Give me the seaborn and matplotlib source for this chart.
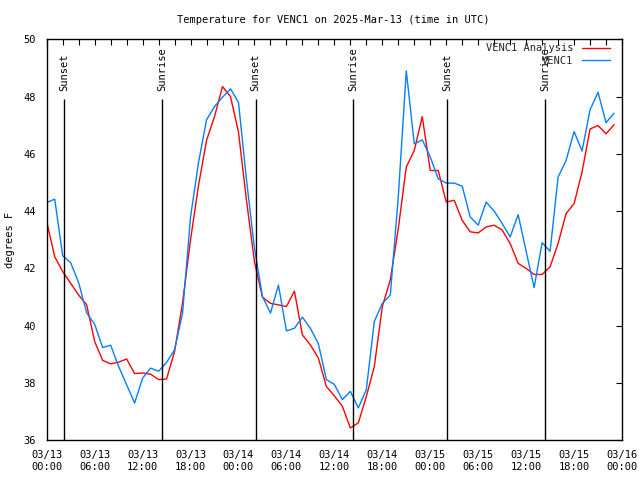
import matplotlib
matplotlib.use("Agg")
import matplotlib.pyplot as plt
import matplotlib.dates as mdates
import numpy as np
import pandas as pd
import seaborn as sns

# hourly values, hours after 2025-03-13 00:00 UTC
hours = list(range(72))

analysis = [43.63, 42.41, 41.89, 41.48, 41.07, 40.73, 39.45, 38.79, 38.67, 38.73,
            38.84, 38.33, 38.35, 38.31, 38.12, 38.14, 39.10, 40.80, 43.00, 44.90,
            46.47, 47.30, 48.35, 48.00, 46.76, 44.38, 42.23, 41.00, 40.78, 40.73,
            40.67, 41.21, 39.68, 39.33, 38.87, 37.88, 37.55, 37.19, 36.43, 36.61,
            37.53, 38.58, 40.67, 41.60, 43.39, 45.54, 46.12, 47.30, 45.42, 45.42,
            44.32, 44.38, 43.68, 43.28, 43.24, 43.45, 43.51, 43.34, 42.87, 42.18,
            42.00, 41.79, 41.79, 42.06, 42.87, 43.92, 44.26, 45.37, 46.87, 46.99,
            46.70, 47.02]

observed = [44.30, 44.42, 42.44, 42.20, 41.50, 40.45, 40.05, 39.24, 39.32, 38.58,
            37.94, 37.30, 38.17, 38.52, 38.41, 38.72, 39.16, 40.44, 43.80, 45.70,
            47.19, 47.65, 47.98, 48.27, 47.80, 45.10, 42.70, 41.02, 40.44, 41.42,
            39.82, 39.91, 40.30, 39.91, 39.37, 38.12, 37.95, 37.42, 37.71, 37.13,
            37.77, 40.15, 40.78, 41.07, 44.50, 48.90, 46.35, 46.49, 45.89, 45.13,
            44.98, 44.98, 44.87, 43.80, 43.51, 44.32, 44.00, 43.57, 43.10, 43.88,
            42.60, 41.33, 42.90, 42.60, 45.19, 45.77, 46.78, 46.10, 47.54, 48.15,
            47.09, 47.42]

sun_hours = [2.15, 14.42, 26.15, 38.37, 50.15, 62.35]
sun_labels = ["Sunset", "Sunrise", "Sunset", "Sunrise", "Sunset", "Sunrise"]

start = pd.Timestamp("2025-03-13 00:00")
times = start + pd.to_timedelta(hours, unit="h")
sun_times = start + pd.to_timedelta(sun_hours, unit="h")

sns.set_theme(style="white")
plt.rcParams["font.family"] = ["DejaVu Sans Mono"]
fs = 7.5

fig = plt.figure(figsize=(6.4, 4.8), dpi=100)
ax = fig.add_axes([0.073, 0.0827, 0.8989, 0.8354])

sns.lineplot(x=times, y=analysis, color="#ff0000", lw=1.0, label="VENC1 Analysis", ax=ax)
sns.lineplot(x=times, y=observed, color="#0080ff", lw=1.0, label="VENC1", ax=ax)

ax.vlines(sun_times, 36, 47.9, color="black", lw=1.0)
for t, lab in zip(sun_times, sun_labels):
    ax.text(t, 48.18, lab, rotation=90, ha="center", va="bottom", fontsize=fs, color="black")

ax.set_xlim(start, start + pd.Timedelta(hours=72))
ax.set_ylim(36, 50)
ax.set_yticks(np.arange(36, 51, 2))
ax.xaxis.set_major_locator(mdates.HourLocator(byhour=[0, 6, 12, 18]))
ax.xaxis.set_minor_locator(mdates.HourLocator(byhour=range(0, 24, 2)))
ax.xaxis.set_major_formatter(mdates.DateFormatter("%m/%d\n%H:%M"))

for s in ax.spines.values():
    s.set_color("black")
    s.set_linewidth(1.0)
ax.tick_params(which="both", direction="in", top=True, right=True, length=4,
               width=0.8, color="black", labelsize=fs, labelcolor="black")
ax.tick_params(axis="x", which="major", pad=7)
ax.tick_params(axis="y", which="major", pad=8)

ax.set_xlabel("")
ax.set_ylabel("degrees F", fontsize=fs, color="black", labelpad=6)
fig.text(0.52, 0.958, "Temperature for VENC1 on 2025-Mar-13 (time in UTC)",
         ha="center", va="center", fontsize=fs, color="black")

ax.legend(loc="upper right", bbox_to_anchor=(0.986, 1.0), borderaxespad=0,
          frameon=False, markerfirst=False, fontsize=fs, handlelength=2.7,
          handletextpad=0.8, labelspacing=0.2)

plt.savefig("out.png", dpi=100)
